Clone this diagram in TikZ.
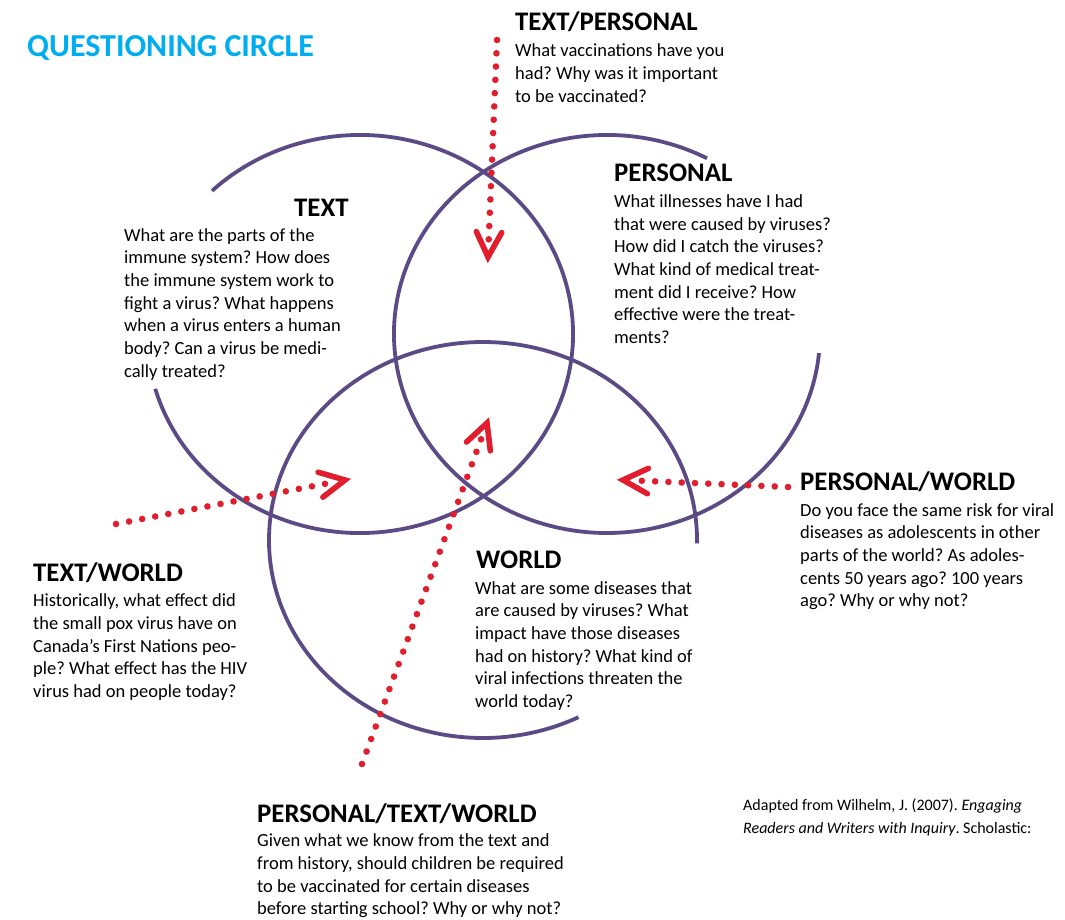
\documentclass[tikz,border=0pt]{standalone}
\usepackage{fontspec}
\setmainfont{Carlito}
\usetikzlibrary{calc}
\frenchspacing
\definecolor{vpurple}{HTML}{5B4A85}
\definecolor{vred}{HTML}{E01E2E}
\definecolor{vcyan}{HTML}{00AEEF}
\tikzset{
  ring/.style={draw=vpurple, line width=3.8pt},
  dots/.style={draw=vred, line width=6.6pt, line cap=round, dash pattern=on 0pt off 13.3pt},
  chev/.style={draw=vred, line width=5.6pt, line cap=round, line join=miter},
  head/.style={anchor=base west, inner sep=0pt, font=\fontsize{26.8}{30}\selectfont\bfseries},
  body/.style={anchor=north west, inner sep=0pt, align=left, font=\fontsize{18.5}{22.7}\selectfont\frenchspacing},
  cite/.style={anchor=north west, inner sep=0pt, align=left, font=\fontsize{16}{23}\selectfont\frenchspacing},
}
\begin{document}
\begin{tikzpicture}[x=1pt, y=-1pt]
\useasboundingbox[fill=white] (0,0) rectangle (1065,920);
% circle centres
\coordinate (cA) at (360,334);
\coordinate (cB) at (607,334);
\coordinate (cC) at (483,540);
% rings (arcs with gaps)
\draw[ring] (cA) ++(-196:213 and 199) arc[start angle=-196, end angle=-494, x radius=213, y radius=199];
\draw[ring] (cB) ++(-62:213 and 199) arc[start angle=-62, end angle=-354.5, x radius=213, y radius=199];
\draw[ring] (cC) ++(1:214 and 198) arc[start angle=1, end angle=-296.5, x radius=214, y radius=198];
% title
\node[anchor=base west, inner sep=0pt, font=\fontsize{32}{38}\selectfont\bfseries, text=vcyan] (title) at (27,57) {QUESTIONING CIRCLE};
% arrows
\coordinate (s1) at (497,40);  \coordinate (t1) at (488,257);
\coordinate (s2) at (116,524); \coordinate (t2) at (345,480);
\coordinate (s3) at (788,487); \coordinate (t3) at (623,480);
\coordinate (s4) at (362,764); \coordinate (t4) at (487,423);
\foreach \i in {1,2,3,4}{
  \draw[dots] (s\i) -- ($(t\i)!17pt!(s\i)$);
  \draw[chev] ($(t\i)!28pt!27:(s\i)$) -- (t\i) -- ($(t\i)!28pt!-27:(s\i)$);
}
% texts
\node[head] (hTP) at (515,31) {TEXT/PERSONAL};
\node[body] (bTP) at (515,40.8) {\strut What vaccinations have you\\had? Why was it important\\to be vaccinated?};
\node[head] (hP) at (614,182) {PERSONAL};
\node[body] (bP) at (614,191.4) {\strut What illnesses have I had\\that were caused by viruses?\\How did I catch the viruses?\\What kind of medical treat-\\ment did I receive? How\\effective were the treat-\\ments?};
\node[head] (hT) at (294,216) {TEXT};
\node[body] (bT) at (124,225.1) {\strut What are the parts of the\\immune system? How does\\the immune system work to\\fight a virus? What happens\\when a virus enters a human\\body? Can a virus be medi-\\cally treated?};
\node[head] (hW) at (476,568) {WORLD};
\node[body] (bW) at (475,578.1) {\strut What are some diseases that\\are caused by viruses? What\\impact have those diseases\\had on history? What kind of\\viral infections threaten the\\world today?};
\node[head] (hPW) at (800,490) {PERSONAL/WORLD};
\node[body] (bPW) at (800,500.1) {\strut Do you face the same risk for viral\\diseases as adolescents in other\\parts of the world? As adoles-\\cents 50 years ago? 100 years\\ago? Why or why not?};
\node[head] (hTW) at (33,581) {TEXT/WORLD};
\node[body] (bTW) at (33,590.8) {\strut Historically, what effect did\\the small pox virus have on\\Canada’s First Nations peo-\\ple? What effect has the HIV\\virus had on people today?};
\node[head] (hPTW) at (257,822) {PERSONAL/TEXT/WORLD};
\node[body] (bPTW) at (257,830.8) {\strut Given what we know from the text and\\from history, should children be required\\to be vaccinated for certain diseases\\before starting school? Why or why not?};
\node[cite] (cit) at (743,793.9) {\strut Adapted from Wilhelm, J. (2007). \textit{Engaging}\\\textit{Readers and Writers with Inquiry}. Scholastic:};
\end{tikzpicture}
\end{document}
